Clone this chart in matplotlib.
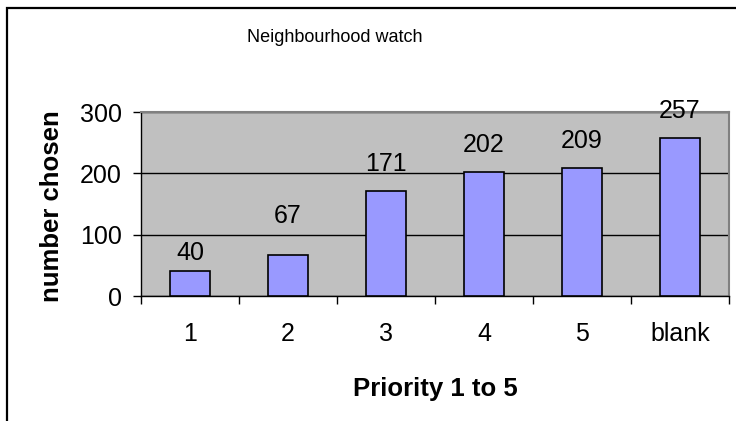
import matplotlib.pyplot as plt
from matplotlib.patches import Rectangle

categories = ['1', '2', '3', '4', '5', 'blank']
counts = [40, 67, 171, 202, 209, 257]
# gap (points) between bar top and its label, some were nudged by hand
label_gap = [8.6, 23, 14.4, 14.4, 14.4, 14.4]

plt.rcParams['font.family'] = ['Liberation Sans', 'DejaVu Sans']

fig = plt.figure(figsize=(7.36, 4.21), dpi=100)
ax = fig.add_axes([141 / 736, 1 - 296 / 421, 588 / 736, 184 / 421])
ax.set_facecolor('#c0c0c0')

x = range(len(categories))
ax.bar(x, counts, width=0.41, color='#9999ff', edgecolor='black', linewidth=1.2, zorder=3)
for i, v in enumerate(counts):
    ax.annotate(str(v), (i, v), xytext=(0, label_gap[i]), textcoords='offset points',
                ha='center', va='baseline', fontsize=18, zorder=4)

ax.set_xlim(-0.5, len(categories) - 0.5)
ax.set_ylim(0, 300)
ax.set_yticks([0, 100, 200, 300])
ax.yaxis.grid(True, color='black', linewidth=1)
ax.set_axisbelow(True)

# category ticks sit between the bars, labels in the middle
ax.set_xticks(list(x))
ax.set_xticklabels(categories)
ax.set_xticks([i + 0.5 for i in range(-1, len(categories))], minor=True)
ax.tick_params(axis='x', which='major', length=0, pad=19, labelsize=18)
ax.tick_params(axis='x', which='minor', length=5.8, width=1, direction='out')
ax.tick_params(axis='y', length=5.8, width=1, direction='out', pad=8, labelsize=18)

for side in ['top', 'right']:
    ax.spines[side].set_color('#808080')
    ax.spines[side].set_linewidth(1.5)
for side in ['left', 'bottom']:
    ax.spines[side].set_color('black')
    ax.spines[side].set_linewidth(1)

fig.text(52 / 736, 1 - 206 / 421, 'number chosen', rotation=90, ha='center', va='center',
         fontsize=18.5, fontweight='bold')
fig.text(435 / 736, 1 - 389 / 421, 'Priority 1 to 5', ha='center', va='center',
         fontsize=18.5, fontweight='bold')
fig.text(335 / 736, 1 - 37 / 421, 'Neighbourhood watch', ha='center', va='center',
         fontsize=13)

# outer chart frame, runs off the right and bottom edges
fig.patches.append(Rectangle((7 / 736, -0.1), 1.2, 1.1 - 8 / 421, transform=fig.transFigure,
                             fill=False, edgecolor='black', linewidth=1.6))

plt.savefig('out.png', dpi=100)
